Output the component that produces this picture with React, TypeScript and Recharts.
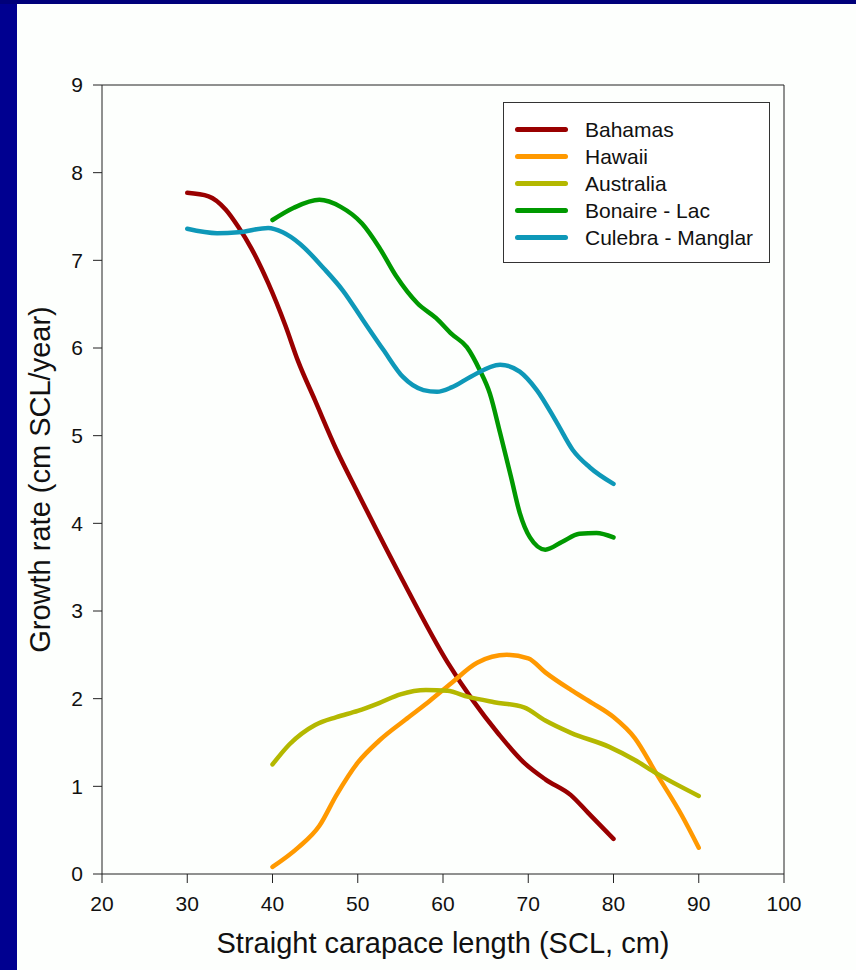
import React from "react";
import { LineChart, Line, XAxis, YAxis, ReferenceLine } from "recharts";

const xTicks = [20, 30, 40, 50, 60, 70, 80, 90, 100];
const yTicks = [0, 1, 2, 3, 4, 5, 6, 7, 8, 9];

const bahamasX = [30, 32.5, 34.5, 36, 37.5, 39.5, 41.5, 43, 45, 47.5, 50, 55, 60.5, 63.5, 66.5, 69.5, 72, 75, 77, 80];
const bahamasY = [7.77, 7.73, 7.58, 7.38, 7.14, 6.74, 6.26, 5.85, 5.4, 4.84, 4.35, 3.4, 2.42, 1.98, 1.6, 1.27, 1.08, 0.9, 0.7, 0.4];

const hawaiiX = [40, 43, 45.5, 47.5, 50, 52.5, 56, 58.5, 61, 64, 67.5, 70, 72, 75, 77.5, 80, 82.5, 85, 88, 90];
const hawaiiY = [0.08, 0.3, 0.55, 0.9, 1.27, 1.52, 1.79, 1.98, 2.18, 2.41, 2.5, 2.46, 2.3, 2.1, 1.95, 1.79, 1.55, 1.15, 0.67, 0.3];

const australiaX = [40, 42, 45, 47.5, 50, 52.5, 55, 58, 60.5, 63, 66, 69.5, 72, 75, 79.5, 82.5, 85, 90];
const australiaY = [1.25, 1.48, 1.7, 1.79, 1.86, 1.95, 2.05, 2.1, 2.09, 2.02, 1.96, 1.9, 1.75, 1.61, 1.45, 1.3, 1.15, 0.89];

const bonaireX = [40, 42.5, 45.5, 48, 50.5, 52.5, 54.5, 57, 59.2, 61, 62.8, 64.3, 65.5, 66.7, 68, 69, 70.2, 72, 74, 76, 78, 80];
const bonaireY = [7.46, 7.6, 7.69, 7.61, 7.42, 7.15, 6.82, 6.51, 6.34, 6.16, 6.01, 5.75, 5.48, 5.03, 4.52, 4.12, 3.84, 3.7, 3.79, 3.88, 3.89, 3.84];

const culebraX = [30, 33.5, 36, 39.5, 41.2, 43.2, 46, 48.3, 50.6, 53, 55.3, 57.7, 59.3, 61, 63.2, 66.7, 69, 71, 73.4, 75.2, 77.2, 80];
const culebraY = [7.36, 7.31, 7.32, 7.37, 7.32, 7.19, 6.91, 6.65, 6.32, 5.98, 5.67, 5.52, 5.5, 5.55, 5.67, 5.81, 5.73, 5.52, 5.14, 4.84, 4.64, 4.45];

const toPoints = (xs: number[], ys: number[]) => xs.map((x, i) => ({ x, y: ys[i] }));

const series = [
    { name: "Bahamas", color: "#990000", data: toPoints(bahamasX, bahamasY) },
    { name: "Hawaii", color: "#ff9900", data: toPoints(hawaiiX, hawaiiY) },
    { name: "Australia", color: "#b4b800", data: toPoints(australiaX, australiaY) },
    { name: "Bonaire - Lac", color: "#009900", data: toPoints(bonaireX, bonaireY) },
    { name: "Culebra - Manglar", color: "#0e98b8", data: toPoints(culebraX, culebraY) },
];

const font = "Arial, 'Liberation Sans', sans-serif";

// legend drawn as a plain box on top of the chart so it doesn't eat plot space
const LegendBox = () => (
    <div
        style={{
            position: "absolute",
            left: 503,
            top: 102,
            width: 267,
            height: 161,
            border: "1.5px solid #333",
            background: "#fff",
            boxSizing: "border-box",
            paddingTop: 13,
            fontFamily: font,
            fontSize: 21,
            color: "#111",
        }}
    >
        {series.map((s) => (
            <div key={s.name} style={{ display: "flex", alignItems: "center", height: 27 }}>
                <div
                    style={{
                        marginLeft: 11,
                        width: 53,
                        height: 5,
                        borderRadius: 3,
                        background: s.color,
                    }}
                />
                <span style={{ marginLeft: 17 }}>{s.name}</span>
            </div>
        ))}
    </div>
);

export default function App() {
    return (
        <div style={{ position: "absolute", left: 0, top: 0, width: 856, height: 970, background: "#000090" }}>
            <div style={{ position: "absolute", left: 0, top: 0, width: 856, height: 4, background: "#00007a" }} />
            <div style={{ position: "absolute", left: 17, top: 4, width: 839, height: 966, background: "#fdfffd" }} />
            <div style={{ position: "absolute", left: 0, top: 0 }}>
                <LineChart width={856} height={970} margin={{ top: 85, right: 72, bottom: 46, left: 42 }}>
                    <XAxis
                        type="number"
                        dataKey="x"
                        domain={[20, 100]}
                        ticks={xTicks}
                        allowDuplicatedCategory={false}
                        height={50}
                        stroke="#222"
                        tickSize={9}
                        tick={{ fill: "#111", fontSize: 21, fontFamily: font }}
                        tickMargin={13}
                        label={{
                            value: "Straight carapace length (SCL, cm)",
                            position: "bottom",
                            offset: 8,
                            style: { fill: "#111", fontSize: 29, fontFamily: font },
                        }}
                    />
                    <YAxis
                        type="number"
                        dataKey="y"
                        domain={[0, 9]}
                        ticks={yTicks}
                        width={60}
                        stroke="#222"
                        tickSize={9}
                        tick={{ fill: "#111", fontSize: 21, fontFamily: font }}
                        tickMargin={10}
                        label={{
                            value: "Growth rate (cm SCL/year)",
                            angle: -90,
                            position: "left",
                            offset: 2,
                            style: { fill: "#111", fontSize: 29, fontFamily: font, textAnchor: "middle" },
                        }}
                    />
                    <ReferenceLine y={9} stroke="#222" ifOverflow="extendDomain" />
                    <ReferenceLine x={100} stroke="#222" ifOverflow="extendDomain" />
                    {series.map((s) => (
                        <Line
                            key={s.name}
                            data={s.data}
                            dataKey="y"
                            name={s.name}
                            type="monotone"
                            stroke={s.color}
                            strokeWidth={4.5}
                            strokeLinecap="round"
                            dot={false}
                            activeDot={false}
                            isAnimationActive={false}
                        />
                    ))}
                </LineChart>
            </div>
            <LegendBox />
        </div>
    );
}
